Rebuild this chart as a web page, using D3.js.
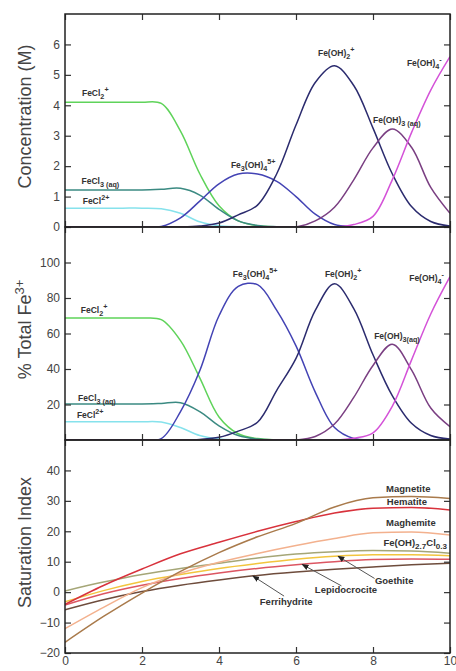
<!DOCTYPE html>
<html>
<head>
<meta charset="utf-8">
<script src="https://cdn.jsdelivr.net/npm/d3@7"></script>
<style>
  body { margin: 0; background: #fff; }
  text { font-family: "Liberation Sans", Arial, sans-serif; }
</style>
</head>
<body>
<div id="chart"></div>
<script>
// pH grid for the speciation panels
var pH = [0, 0.5, 1, 1.5, 2, 2.5, 3, 3.5, 4, 4.5, 5, 5.5, 6, 6.5, 7, 7.5, 8, 8.5, 9, 9.5, 10];

// panel 1 - concentration (M)
var concFeCl2p = [4.1, 4.1, 4.1, 4.1, 4.1, 4.06, 3.15, 1.75, 0.7, 0.2, 0.04, 0.005, 0, 0, 0, 0, 0, 0, 0, 0, 0];
var concFeCl3 = [1.22, 1.22, 1.22, 1.22, 1.22, 1.24, 1.27, 1.05, 0.58, 0.2, 0.05, 0.01, 0, 0, 0, 0, 0, 0, 0, 0, 0];
var concFeCl2pp = [0.62, 0.62, 0.62, 0.62, 0.62, 0.6, 0.45, 0.17, 0.04, 0.01, 0, 0, 0, 0, 0, 0, 0, 0, 0, 0, 0];
var concFe3OH4 = [0, 0, 0, 0, 0, 0.02, 0.3, 0.85, 1.42, 1.74, 1.74, 1.5, 1.0, 0.42, 0.08, 0.01, 0, 0, 0, 0, 0];
var concFeOH2 = [0, 0, 0, 0, 0, 0, 0, 0.03, 0.13, 0.4, 0.72, 1.75, 3.35, 4.75, 5.3, 4.65, 3.25, 1.75, 0.67, 0.18, 0.03];
var concFeOH3 = [0, 0, 0, 0, 0, 0, 0, 0, 0, 0, 0, 0, 0, 0.2, 0.65, 1.55, 2.6, 3.22, 2.62, 1.3, 0.45];
var concFeOH4 = [0, 0, 0, 0, 0, 0, 0, 0, 0, 0, 0, 0, 0, 0, 0, 0.08, 0.35, 1.55, 3.1, 4.5, 5.6];

// panel 2 - % of total Fe3+
var pctFeCl2p = [68.7, 68.7, 68.7, 68.7, 68.7, 67.8, 56, 35, 13, 3.5, 0.8, 0.1, 0, 0, 0, 0, 0, 0, 0, 0, 0];
var pctFeCl3 = [20.3, 20.3, 20.3, 20.3, 20.3, 20.6, 21, 16, 8, 2.5, 0.5, 0.1, 0, 0, 0, 0, 0, 0, 0, 0, 0];
var pctFeCl2pp = [10.3, 10.3, 10.3, 10.3, 10.3, 10.1, 7, 2.5, 0.5, 0.1, 0, 0, 0, 0, 0, 0, 0, 0, 0, 0, 0];
var pctFe3OH4 = [0, 0, 0, 0, 0, 0.8, 16, 39, 70, 86.5, 87.5, 73, 53, 27, 7, 0.8, 0, 0, 0, 0, 0];
var pctFeOH2 = [0, 0, 0, 0, 0, 0, 0, 0.3, 1.5, 5, 10, 28, 46, 73, 88, 74, 48, 25, 9.4, 2.5, 0.5];
var pctFeOH3 = [0, 0, 0, 0, 0, 0, 0, 0, 0, 0, 0, 0, 0, 2, 9, 24, 42, 54, 39.5, 18, 7.5];
var pctFeOH4 = [0, 0, 0, 0, 0, 0, 0, 0, 0, 0, 0, 0, 0, 0, 0, 1, 4, 19, 45, 71, 92];

// panel 3 - saturation index
var satPH = [0, 1, 2, 3, 4, 5, 6, 7, 8, 9, 10];
var siMagnetite = [-16.5, -8, -0.3, 6.8, 13, 18.2, 22.6, 28, 31, 31.4, 30.8];
var siHematite = [-4, 2.2, 7.6, 12.6, 16.4, 20, 23.2, 26, 27.6, 27.8, 27];
var siMaghemite = [-12, -5, 1.5, 6.2, 9.8, 12.7, 15.3, 17.6, 19.5, 19.8, 18.8];
var siFeOHCl = [0.4, 3.3, 5.8, 7.8, 9.5, 11.2, 12.5, 13.3, 13.7, 13.5, 12.8];
var siGoethite = [-3.2, 0.5, 3.5, 5.8, 7.8, 9.4, 10.8, 11.8, 12.3, 12.3, 12.0];
var siLepidocrocite = [-4.2, -0.5, 2.3, 4.5, 6.3, 7.8, 9.0, 10.0, 10.7, 10.9, 10.8];
var siFerrihydrite = [-5.8, -2.5, 0.2, 2.3, 4.0, 5.5, 6.6, 7.5, 8.3, 9.0, 9.5];

// tick labels
var xTicks = [0, 2, 4, 6, 8, 10];
var concTicks = [0, 1, 2, 3, 4, 5, 6];
var pctTicks = [20, 40, 60, 80, 100];
var siTicks = [-20, -10, 0, 10, 20, 30, 40];

var svgWidth = 456;
var svgHeight = 671;
var margin = { top: 14, left: 65, right: 6 };
var width = svgWidth - margin.left - margin.right;
var panelH = 213;

var svg = d3.select("#chart")
  .append("svg")
  .attr("width", svgWidth)
  .attr("height", svgHeight);

var defs = svg.append("defs");
defs.append("marker")
  .attr("id", "arrow")
  .attr("viewBox", "0 0 10 10")
  .attr("refX", 9)
  .attr("refY", 5)
  .attr("markerWidth", 7)
  .attr("markerHeight", 7)
  .attr("orient", "auto")
  .append("path")
  .attr("d", "M0,1 L10,5 L0,9 z")
  .attr("fill", "#222");

var x = d3.scaleLinear().domain([0, 10]).range([0, width]);

var panels = [
  { domain: [0, 7], ticks: concTicks, title: "Concentration (M)", curve: d3.curveCatmullRom.alpha(0.5),
    series: [
      { v: concFeCl2p, c: "#5fd35a" },
      { v: concFeCl3, c: "#3b8a82" },
      { v: concFeCl2pp, c: "#86e2ec" },
      { v: concFe3OH4, c: "#4343b4" },
      { v: concFeOH2, c: "#2b2b6e" },
      { v: concFeOH3, c: "#7a3f82" },
      { v: concFeOH4, c: "#d452d8" }
    ] },
  { domain: [0, 120], ticks: pctTicks, title: "% Total Fe", curve: d3.curveCatmullRom.alpha(0.5),
    series: [
      { v: pctFeCl2p, c: "#5fd35a" },
      { v: pctFeCl3, c: "#3b8a82" },
      { v: pctFeCl2pp, c: "#86e2ec" },
      { v: pctFe3OH4, c: "#4343b4" },
      { v: pctFeOH2, c: "#2b2b6e" },
      { v: pctFeOH3, c: "#7a3f82" },
      { v: pctFeOH4, c: "#d452d8" }
    ] },
  { domain: [-20, 50], ticks: siTicks, title: "Saturation Index", xs: satPH, curve: d3.curveMonotoneX,
    series: [
      { v: siFerrihydrite, c: "#6e4c3c" },
      { v: siLepidocrocite, c: "#dc5662" },
      { v: siGoethite, c: "#f2c53e" },
      { v: siFeOHCl, c: "#a5a677" },
      { v: siMaghemite, c: "#f3b18e" },
      { v: siHematite, c: "#d8323c" },
      { v: siMagnetite, c: "#a97a4b" }
    ] }
];

// chemical labels: parts are [text, "sub"|"sup"|""]
var labels = [
  [
    { x: 0.44, y: 4.3, p: [["FeCl", ""], ["2", "sub"], ["+", "sup"]] },
    { x: 0.43, y: 1.41, p: [["FeCl", ""], ["3 (aq)", "sub"]] },
    { x: 0.46, y: 0.76, p: [["FeCl", ""], ["2+", "sup"]] },
    { x: 4.31, y: 1.94, p: [["Fe", ""], ["3", "sub"], ["(OH)", ""], ["4", "sub"], ["5+", "sup"]] },
    { x: 6.57, y: 5.62, p: [["Fe(OH)", ""], ["2", "sub"], ["+", "sup"]] },
    { x: 8.0, y: 3.42, p: [["Fe(OH)", ""], ["3 (aq)", "sub"]] },
    { x: 8.88, y: 5.29, p: [["Fe(OH)", ""], ["4", "sub"], ["-", "sup"]] }
  ],
  [
    { x: 0.41, y: 71.5, p: [["FeCl", ""], ["2", "sub"], ["+", "sup"]] },
    { x: 0.34, y: 22, p: [["FeCl", ""], ["3 (aq)", "sub"]] },
    { x: 0.31, y: 12.4, p: [["FeCl", ""], ["2+", "sup"]] },
    { x: 4.36, y: 91.8, p: [["Fe", ""], ["3", "sub"], ["(OH)", ""], ["4", "sub"], ["5+", "sup"]] },
    { x: 6.75, y: 91.8, p: [["Fe(OH)", ""], ["2", "sub"], ["+", "sup"]] },
    { x: 8.03, y: 56.9, p: [["Fe(OH)", ""], ["3(aq)", "sub"]] },
    { x: 8.94, y: 89.6, p: [["Fe(OH)", ""], ["4", "sub"], ["-", "sup"]] }
  ],
  [
    { x: 8.34, y: 32.9, p: [["Magnetite", ""]] },
    { x: 8.36, y: 28.6, p: [["Hematite", ""]] },
    { x: 8.34, y: 21.6, p: [["Maghemite", ""]] },
    { x: 8.27, y: 15.3, p: [["Fe(OH)", ""], ["2.7", "sub"], ["Cl", ""], ["0.3", "sub"]] },
    { x: 8.05, y: 2.6, p: [["Goethite", ""]] },
    { x: 6.49, y: -0.3, p: [["Lepidocrocite", ""]] },
    { x: 5.06, y: -4.3, p: [["Ferrihydrite", ""]] }
  ]
];

// arrows on the saturation panel [from, to] in data units
var arrows = [
  [[8.04, 4.5], [7.09, 11.8]],
  [[7.18, 2.07], [6.16, 9.1]],
  [[5.69, -1.3], [4.88, 5.3]]
];

function addLabel(g, px, py, parts, size) {
  var t = g.append("text")
    .attr("x", px)
    .attr("y", py)
    .attr("font-size", size)
    .attr("font-weight", "bold")
    .attr("fill", "#333");
  parts.forEach(function(p) {
    var s = t.append("tspan").text(p[0]);
    if (p[1] === "sub") {
      s.attr("baseline-shift", -2.5).attr("font-size", size * 0.85);
    } else if (p[1] === "sup") {
      s.attr("baseline-shift", 4).attr("font-size", size * 0.85);
    }
  });
}

panels.forEach(function(panel, i) {
  var top = margin.top + i * panelH;
  var g = svg.append("g")
    .attr("transform", `translate(${margin.left}, ${top})`);

  var y = d3.scaleLinear().domain(panel.domain).range([panelH, 0]);
  var xs = panel.xs || pH;

  g.append("clipPath").attr("id", "clip" + i)
    .append("rect").attr("width", width).attr("height", panelH);

  var line = d3.line()
    .x(function(d, j) { return x(xs[j]); })
    .y(function(d) { return y(d); })
    .curve(panel.curve);

  g.append("g").attr("clip-path", `url(#clip${i})`)
    .selectAll("path")
    .data(panel.series)
    .enter()
    .append("path")
    .attr("d", function(s) { return line(s.v); })
    .attr("fill", "none")
    .attr("stroke", function(s) { return s.c; })
    .attr("stroke-width", 1.5);

  // axes with inward ticks on every side
  var leftAxis = d3.axisLeft(y).tickValues(panel.ticks).tickSizeInner(-6).tickSizeOuter(0)
    .tickPadding(5).tickFormat(d3.format("d"));
  var rightAxis = d3.axisRight(y).tickValues(panel.ticks).tickSizeInner(-6).tickSizeOuter(0).tickFormat("");
  var topAxis = d3.axisTop(x).tickValues(xTicks).tickSizeInner(-6).tickSizeOuter(0).tickFormat("");
  var bottomAxis = d3.axisBottom(x).tickValues(xTicks).tickSizeInner(-6).tickSizeOuter(0)
    .tickPadding(3).tickFormat(d3.format("d"));
  if (i < 2) bottomAxis.tickFormat("");

  var axes = [
    g.append("g").call(leftAxis),
    g.append("g").attr("transform", `translate(${width}, 0)`).call(rightAxis),
    g.append("g").call(topAxis),
    g.append("g").attr("transform", `translate(0, ${panelH})`).call(bottomAxis)
  ];
  axes.forEach(function(a) {
    a.select(".domain").remove();
    a.selectAll("line").attr("stroke", "#333").attr("stroke-width", 1.2);
    a.selectAll("text").attr("font-size", 12).attr("fill", "#444")
      .attr("font-family", "'Liberation Sans', Arial, sans-serif");
  });

  g.append("rect")
    .attr("width", width)
    .attr("height", panelH)
    .attr("fill", "none")
    .attr("stroke", "#222")
    .attr("stroke-width", 1.5);

  // axis title
  var title = svg.append("text")
    .attr("transform", `translate(31, ${top + panelH / 2 - 4}) rotate(-90)`)
    .attr("text-anchor", "middle")
    .attr("font-size", 18)
    .attr("fill", "#444")
    .text(panel.title);
  if (i === 1) {
    title.append("tspan").attr("baseline-shift", 7).attr("font-size", 13).text("3+");
  }

  labels[i].forEach(function(l) {
    addLabel(g, x(l.x), y(l.y), l.p, i === 2 ? 9.5 : 8.5);
  });

  if (i === 2) {
    g.selectAll(".arrow")
      .data(arrows)
      .enter()
      .append("line")
      .attr("class", "arrow")
      .attr("x1", function(a) { return x(a[0][0]); })
      .attr("y1", function(a) { return y(a[0][1]); })
      .attr("x2", function(a) { return x(a[1][0]); })
      .attr("y2", function(a) { return y(a[1][1]); })
      .attr("stroke", "#555")
      .attr("stroke-width", 1)
      .attr("marker-end", "url(#arrow)");
  }
});
</script>
</body>
</html>
